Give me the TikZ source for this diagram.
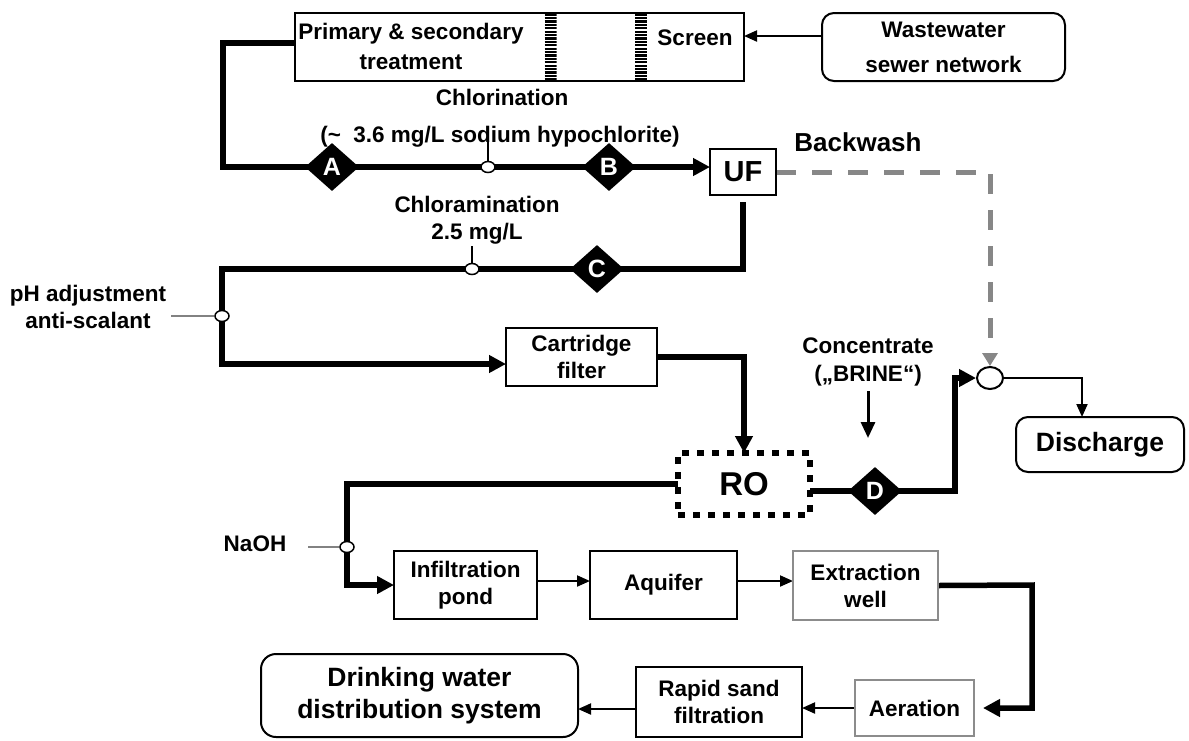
\documentclass[tikz,border=0pt]{standalone}
\usepackage{fontspec}
\setmainfont{Liberation Sans}
\usetikzlibrary{arrows.meta,shapes.geometric}
\pgfdeclarelayer{bg}
\pgfsetlayers{bg,main}
\definecolor{bwgray}{RGB}{135,135,135}
\definecolor{boxgray}{RGB}{140,140,140}
\definecolor{feedgray}{RGB}{130,130,130}
\begin{document}
\begin{tikzpicture}[x=1pt,y=-1pt,
  txt/.style={font=\fontsize{22.5}{27}\selectfont\bfseries, align=center},
  lbl/.style={txt, inner sep=0pt},
  box/.style={draw, line width=2pt, fill=white, inner sep=0pt, outer sep=0pt},
  gbox/.style={box, draw=boxgray},
  rbox/.style={box, rounded corners=12pt},
  dia/.style={diamond, fill=black, text=white, minimum width=54pt, minimum height=48pt, inner sep=0pt, font=\fontsize{25}{25}\selectfont\bfseries},
  dot/.style={ellipse, draw, line width=1.5pt, fill=white, minimum width=14pt, minimum height=11pt, inner sep=0pt},
  flow/.style={line width=5.5pt, line join=miter},
  flowarr/.style={flow, -{Triangle[length=17pt,width=17pt]}},
  thinarr/.style={line width=2pt, -{Triangle[length=13pt,width=11pt]}},
  medarr/.style={line width=3pt, -{Triangle[length=16pt,width=14pt]}},
  feed/.style={line width=1.5pt, draw=feedgray},
  bwline/.style={line width=5pt, draw=bwgray, dash pattern=on 20pt off 16pt, -{Triangle[length=13pt,width=15pt,fill=bwgray]}},
  hatch/.style={minimum width=12pt, minimum height=68pt, inner sep=0pt, outer sep=0pt,
    path picture={\foreach \k in {0,...,19}{\draw[line width=2.3pt] ([yshift={-1.7pt-3.4pt*\k}]path picture bounding box.north west) -- ([yshift={-1.7pt-3.4pt*\k}]path picture bounding box.north east);}}}
]
\useasboundingbox (0,0) rectangle (1189,740);

% top row
\node[box, minimum width=449pt, minimum height=68pt] (big) at (519.5,47) {};
\node[hatch] (scr1) at (550.5,47) {};
\node[hatch] (scr2) at (641,47) {};
\node[lbl, font=\fontsize{22.5}{30}\selectfont\bfseries] (tprim) at (411,46) {Primary \& secondary\\treatment};
\node[lbl] (tscr) at (695,38) {Screen};
\node[rbox, txt, font=\fontsize{22.5}{35}\selectfont\bfseries, minimum width=243pt, minimum height=68pt] (ww) at (943.5,47) {Wastewater\\sewer network};

% chlorination line
\node[lbl] (tchl) at (502,97) {Chlorination};
\node[lbl] (tdose) at (500,137) {(\textasciitilde\ \ 3.6 mg/L sodium hypochlorite)};
\node[dia] (A) at (332,167) {A};
\node[dot] (cl1) at (488,167) {};
\node[dia] (B) at (609,167) {B};
\node[box, txt, font=\fontsize{29}{29}\selectfont\bfseries, minimum width=66pt, minimum height=46pt] (UF) at (743,172) {UF};
\node[lbl, font=\fontsize{26}{26}\selectfont\bfseries] (tbw) at (858,142) {Backwash};

% chloramination line
\node[lbl] (tcam) at (477,220) {Chloramination\\2.5 mg/L};
\node[dot] (cl2) at (472,269) {};
\node[dia] (C) at (597,269) {C};
\node[lbl] (tph) at (88,307) {pH adjustment\\anti-scalant};
\node[dot] (ph) at (222,316) {};
\node[box, txt, minimum width=151pt, minimum height=58pt] (cart) at (581.5,357) {Cartridge\\filter};

% RO
\node[box, dash pattern=on 7pt off 8pt, line width=6.5pt, font=\fontsize{33}{33}\selectfont\bfseries, minimum width=132pt, minimum height=62pt] (RO) at (744,484) {RO};
\node[dia] (D) at (875,491) {D};
\node[lbl, font=\fontsize{22.5}{28}\selectfont\bfseries] (tconc) at (868,362) {Concentrate\\(„BRINE“)};
\coordinate (ct) at (868,438);
\node[ellipse, draw, line width=2pt, fill=white, minimum width=26pt, minimum height=22pt, inner sep=0pt] (dc) at (990,378) {};
\node[rbox, font=\fontsize{26.5}{26.5}\selectfont\bfseries, minimum width=168pt, minimum height=55pt] (disch) at (1100,444.5) {Discharge};

% lower rows
\node[lbl] (tnaoh) at (255,544) {NaOH};
\node[dot] (nc) at (347,547) {};
\node[box, txt, minimum width=143pt, minimum height=68pt] (inf) at (465.5,585) {Infiltration\\pond};
\node[box, txt, minimum width=147pt, minimum height=68pt] (aq) at (663.5,585) {Aquifer};
\node[gbox, txt, minimum width=145pt, minimum height=69pt] (ext) at (865.5,585.5) {Extraction\\well};
\node[gbox, txt, minimum width=119pt, minimum height=56pt] (aer) at (914.5,708) {Aeration};
\node[box, txt, minimum width=166pt, minimum height=70pt] (rsf) at (719,702) {Rapid sand\\filtration};
\node[rbox, txt, font=\fontsize{26.5}{32}\selectfont\bfseries, rounded corners=15pt, minimum width=317pt, minimum height=83pt] (dw) at (419.5,695.5) {Drinking water\\distribution system};

\coordinate (k1) at (223,43);
\coordinate (k2) at (222,269);
\coordinate (k3) at (347,484);
\coordinate (k4) at (955,491);
\coordinate (k5) at (990,172);
\coordinate (k6) at (1032,585);
\coordinate (phl) at (171,316);
\coordinate (nl) at (308,547);

\begin{pgfonlayer}{bg}
\draw[thinarr] ([yshift=11pt]ww.west) -- ([yshift=11pt]ww.west -| big.east);
\draw[thinarr] ([yshift=5pt]scr2.west) -- ([yshift=5pt]scr2.west -| scr1.east);
\draw[flowarr] (k1 -| big.west) -- (k1) |- (A.west) -- (A.west -| UF.west);
\draw[line width=1.5pt] (cl1.north) -- ++(0,-22);
\draw[bwline] (UF.east) -- (k5) -- (dc.north);
\draw[flowarr] ([yshift=-7pt]UF.south) |- (k2) |- ([yshift=-7pt]cart.west);
\draw[line width=1.5pt] (cl2.north) -- ++(0,-17);
\draw[feed] (phl) -- (ph.west);
\draw[flowarr] (cart.east) -| (RO.north);
\draw[flowarr] (RO.west) -- (k3) |- (inf.west);
\draw[feed] (nl) -- (nc.west);
\draw[flowarr] ([yshift=-7pt]RO.east) -- (k4) |- (dc.west);
\draw[thinarr] (dc.east) -| ([xshift=-18pt]disch.north);
\draw[medarr] ([yshift=-5pt]tconc.south) -- (ct);
\draw[thinarr] ([yshift=4pt]inf.east) -- ([yshift=4pt]inf.east -| aq.west);
\draw[thinarr] ([yshift=4pt]aq.east) -- ([yshift=4pt]aq.east -| ext.west);
\draw[flowarr] (ext.east) -- (k6) |- ([xshift=9pt]aer.east);
\draw[thinarr] (aer.west) -- (aer.west -| rsf.east);
\draw[thinarr] ([yshift=-7pt]rsf.west) -- ([yshift=-7pt]rsf.west -| dw.east);
\end{pgfonlayer}
\end{tikzpicture}
\end{document}
